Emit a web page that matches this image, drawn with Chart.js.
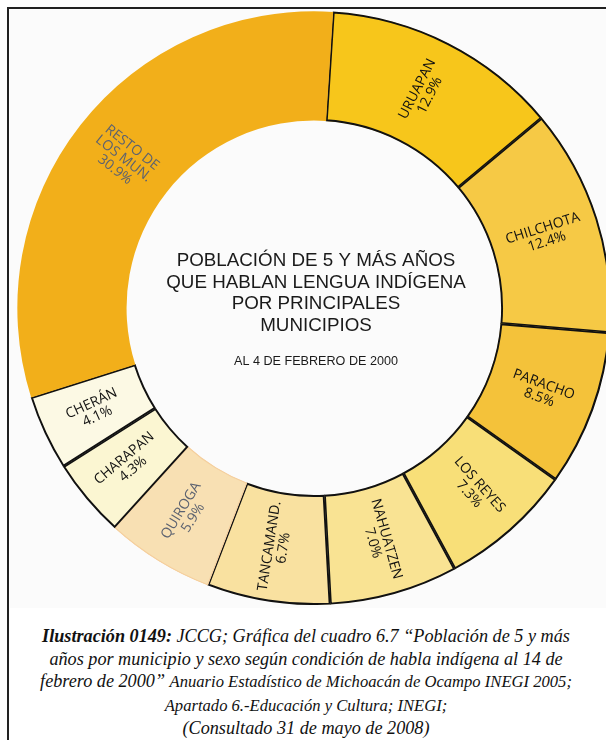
<!DOCTYPE html>
<html lang="es">
<head>
<meta charset="utf-8">
<title>Población indígena por municipio</title>
<script src="https://cdn.jsdelivr.net/npm/chart.js@4/dist/chart.umd.min.js"></script>
<style>
    html, body {
        margin: 0;
        padding: 0;
        width: 606px;
        height: 740px;
        overflow: hidden;
        background: #fff;
    }
    .frame-top {
        position: absolute;
        left: 7px;
        top: 7px;
        width: 600px;
        height: 2px;
        background: #222;
    }
    .frame-left {
        position: absolute;
        left: 7px;
        top: 7px;
        width: 2px;
        height: 740px;
        background: #222;
    }
    .panel {
        position: absolute;
        left: 10px;
        top: 10px;
        width: 596px;
        height: 598px;
        background: #fbfbfb;
    }
    .chart-box {
        position: absolute;
        left: 17px;
        top: 11px;
        width: 594px;
        height: 594px;
    }
    .caption {
        position: absolute;
        left: 0px;
        top: 625px;
        width: 612px;
        text-align: center;
        font-family: "Liberation Serif", "Times New Roman", serif;
        font-style: italic;
        font-size: 18.2px;
        line-height: 22.5px;
        color: #111;
    }
    .caption b { font-weight: bold; }
    .caption .small { font-size: 16.6px; }
</style>
</head>
<body>
<div class="frame-top"></div>
<div class="frame-left"></div>
<div class="panel"></div>
<div class="chart-box"><canvas id="donaChart"></canvas></div>
<div class="caption">
    <b>Ilustración 0149:</b> JCCG; Gráfica del cuadro 6.7 “Población de 5 y más<br>
    años por municipio y sexo según condición de habla indígena al 14 de<br>
    febrero de 2000” <span class="small">Anuario Estadístico de Michoacán de Ocampo INEGI 2005;</span><br>
    <span class="small">Apartado 6.-Educación y Cultura; INEGI;</span><br>
    (Consultado 31 de mayo de 2008)
</div>

<script>
// municipios en el sentido del reloj, empezando arriba
const municipios = ["URUAPAN", "CHILCHOTA", "PARACHO", "LOS REYES", "NAHUATZEN",
    "TANCAMAND.", "QUIROGA", "CHARAPAN", "CHERÁN", ["RESTO DE", "LOS MUN."]];
const porcentajes = [12.9, 12.4, 8.5, 7.3, 7.0, 6.7, 5.9, 4.3, 4.1, 30.9];

const colores = ["#f7c61b", "#f6c945", "#f4c23a", "#f8df78", "#f9e393",
    "#f9e1a0", "#f8e0b3", "#fbf6d2", "#fcf9e4", "#f2af1a"];
const bordes = ["#111", "#111", "#111", "#111", "#111", "#111", "#f5cf9e", "#111", "#111", "#f2af1a"];
const anchoBorde = [1.6, 1.6, 1.6, 1.6, 1.6, 1.6, 0.8, 1.6, 1.6, 0];
const colorTexto = ["#111", "#111", "#111", "#111", "#111", "#111", "#5c6270", "#111", "#111", "#5c6270"];

const titulo = ["POBLACIÓN DE 5 Y MÁS AÑOS", "QUE HABLAN LENGUA INDÍGENA",
    "POR PRINCIPALES", "MUNICIPIOS"];
const subtitulo = "AL 4 DE FEBRERO DE 2000";

// etiquetas giradas dentro de cada sector
const etiquetasSector = {
    id: "etiquetasSector",
    afterDatasetsDraw(chart) {
        const ctx = chart.ctx;
        const meta = chart.getDatasetMeta(0);
        meta.data.forEach((arc, i) => {
            const p = arc.getProps(["x", "y", "startAngle", "endAngle", "innerRadius", "outerRadius"], true);
            const mid = (p.startAngle + p.endAngle) / 2;
            const r = (p.innerRadius + p.outerRadius) / 2;
            const x = p.x + Math.cos(mid) * r;
            const y = p.y + Math.sin(mid) * r;
            let rot = mid;
            if (Math.cos(mid) < 0) rot += Math.PI;

            let nombre = chart.data.labels[i];
            let lineas = Array.isArray(nombre) ? nombre.slice() : [nombre];
            lineas.push(porcentajes[i].toFixed(1) + "%");

            ctx.save();
            ctx.translate(x, y);
            ctx.rotate(rot);
            ctx.fillStyle = colorTexto[i];
            ctx.font = "14px 'Open Sans', sans-serif";
            ctx.textAlign = "center";
            ctx.textBaseline = "middle";
            const alto = 14;
            const y0 = -(lineas.length - 1) * alto / 2;
            lineas.forEach((t, k) => ctx.fillText(t, 0, y0 + k * alto));
            ctx.restore();
        });

        // texto del centro
        const c = meta.data[0];
        const cx = c.x + 2;
        const cy = c.y;
        ctx.save();
        ctx.fillStyle = "#1a1a1a";
        ctx.textAlign = "center";
        ctx.textBaseline = "middle";
        ctx.font = "18.8px 'Liberation Sans', Arial, sans-serif";
        titulo.forEach((t, k) => ctx.fillText(t, cx, cy - 47 + k * 21.5));
        ctx.font = "12.6px 'Liberation Sans', Arial, sans-serif";
        ctx.fillText(subtitulo, cx, cy + 54);
        ctx.restore();
    }
};

new Chart(document.getElementById("donaChart"), {
    type: "doughnut",
    data: {
        labels: municipios,
        datasets: [{
            data: porcentajes,
            backgroundColor: colores,
            borderColor: bordes,
            borderWidth: anchoBorde,
            borderAlign: "inner",
            hoverOffset: 0
        }]
    },
    options: {
        responsive: true,
        maintainAspectRatio: false,
        animation: false,
        rotation: 3.7,
        cutout: "63%",
        layout: { padding: 0 },
        events: [],
        plugins: {
            legend: { display: false },
            tooltip: { enabled: false }
        }
    },
    plugins: [etiquetasSector]
});
</script>
</body>
</html>
